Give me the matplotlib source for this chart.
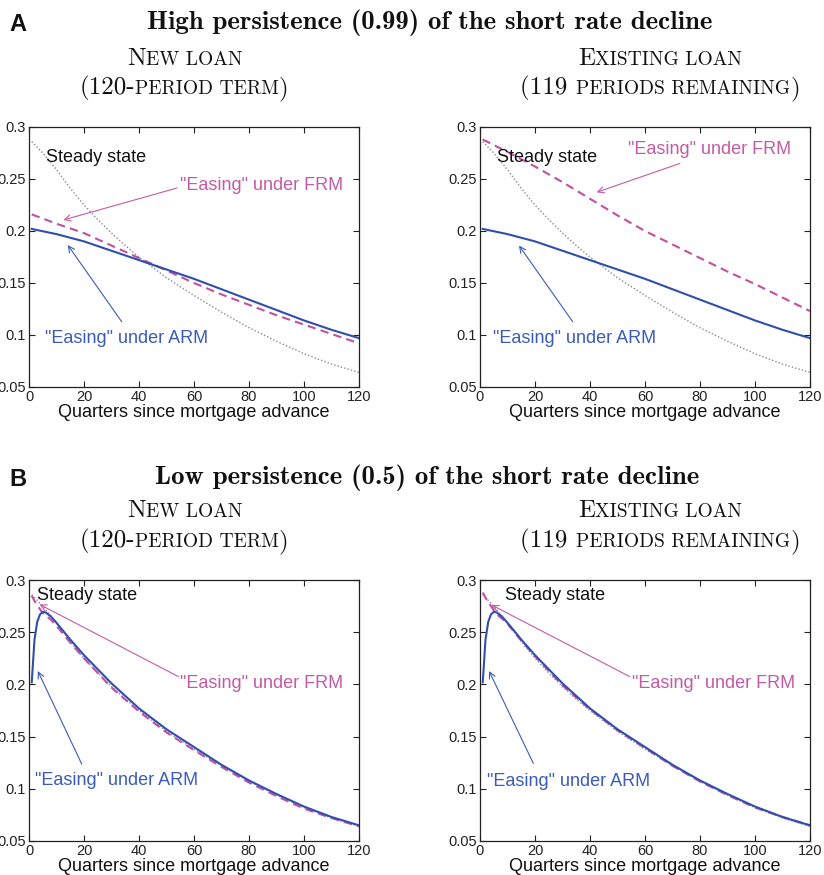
import matplotlib
matplotlib.use("Agg")
import matplotlib.pyplot as plt
from matplotlib.ticker import FixedLocator, FixedFormatter

# ---------------- data ----------------
quarters_ss = [1, 5, 10, 15, 20, 25, 30, 35, 40, 50, 60, 70, 80, 90, 100, 110, 120]
steady_state = [0.286, 0.275, 0.259, 0.241, 0.225, 0.211, 0.198, 0.186, 0.175,
                0.155, 0.138, 0.122, 0.107, 0.094, 0.082, 0.072, 0.064]

quarters_hi = [1, 10, 20, 30, 40, 50, 60, 70, 80, 90, 100, 110, 120]
arm_high = [0.202, 0.197, 0.190, 0.181, 0.172, 0.163, 0.154, 0.144, 0.134, 0.124, 0.114, 0.105, 0.097]
frm_high_new = [0.216, 0.207, 0.198, 0.186, 0.174, 0.162, 0.150, 0.139, 0.129, 0.119, 0.110, 0.101, 0.092]
frm_high_existing = [0.288, 0.276, 0.262, 0.247, 0.231, 0.215, 0.200, 0.187, 0.174, 0.161, 0.149, 0.136, 0.123]

quarters_lo = [1, 2, 3, 4, 5, 6, 7, 8, 10, 15, 20, 30, 40, 50, 60, 70, 80, 90, 100, 110, 120]
arm_low = [0.202, 0.243, 0.260, 0.267, 0.2695, 0.269, 0.267, 0.265, 0.259, 0.243, 0.228,
           0.201, 0.177, 0.157, 0.140, 0.123, 0.108, 0.095, 0.083, 0.073, 0.065]
frm_low_new = [0.285, 0.280, 0.276, 0.272, 0.2685, 0.2665, 0.264, 0.262, 0.256, 0.240, 0.225,
               0.197, 0.174, 0.154, 0.137, 0.121, 0.106, 0.093, 0.081, 0.072, 0.064]
frm_low_existing = [0.288, 0.283, 0.279, 0.275, 0.271, 0.268, 0.265, 0.263, 0.258, 0.242, 0.227,
                    0.199, 0.176, 0.156, 0.139, 0.122, 0.107, 0.094, 0.082, 0.073, 0.065]

x_ticks = [0, 20, 40, 60, 80, 100, 120]
y_ticks = [0.05, 0.1, 0.15, 0.2, 0.25, 0.3]
y_tick_labels = ["0.05", "0.1", "0.15", "0.2", "0.25", "0.3"]

# ---------------- style ----------------
BLUE = "#2f4fae"
MAG = "#c24fa4"
BLUE_T = "#3a5cb8"
MAG_T = "#c45aa6"
GRAY = "#8a8a8a"
SANS = ["Liberation Sans", "DejaVu Sans"]

W, H = 824, 875
fig = plt.figure(figsize=(W / 100, H / 100), dpi=100)


def ax_rect(left, top, right, bottom):
    return [left / W, 1 - bottom / H, (right - left) / W, (bottom - top) / H]


def style_axes(ax, xlabel=True):
    ax.set_xlim(0, 120)
    ax.set_ylim(0.05, 0.3)
    ax.xaxis.set_major_locator(FixedLocator(x_ticks))
    ax.yaxis.set_major_locator(FixedLocator(y_ticks))
    ax.yaxis.set_major_formatter(FixedFormatter(y_tick_labels))
    ax.tick_params(direction="in", top=True, right=True, length=4, width=0.8,
                   labelsize=10.5, pad=2, colors="#222222")
    for lab in ax.get_xticklabels() + ax.get_yticklabels():
        lab.set_family(SANS)
    for s in ax.spines.values():
        s.set_linewidth(0.9)
        s.set_color("#222222")
    if xlabel:
        ax.set_xlabel("Quarters since mortgage advance", family=SANS, fontsize=13,
                      labelpad=0, color="#111111")


def annotate(ax, text, color, text_xy, arrow_from, arrow_to):
    ax.text(text_xy[0], text_xy[1], text, color=color, family=SANS, fontsize=13,
            va="center", ha="left")
    if arrow_from is not None:
        ax.annotate("", xy=arrow_to, xytext=arrow_from,
                    arrowprops=dict(arrowstyle="->", color=color, lw=0.8,
                                    shrinkA=0, shrinkB=0, mutation_scale=11))


# Top-left
ax1 = fig.add_axes(ax_rect(29, 127, 359, 387))
ax1.plot(quarters_ss, steady_state, color=GRAY, lw=1.0, ls=(0, (1, 1.5)))
ax1.plot(quarters_hi, frm_high_new, color=MAG, lw=1.5, ls=(0, (4, 2.5)))
ax1.plot(quarters_hi, arm_high, color=BLUE, lw=1.5)
style_axes(ax1)
annotate(ax1, "Steady state", "#111111", (6.2, 0.271), None, None)
annotate(ax1, '"Easing" under FRM', MAG_T, (54.9, 0.244), (53.8, 0.2413), (12.5, 0.2106))
annotate(ax1, '"Easing" under ARM', BLUE_T, (5.8, 0.0962), (33.7, 0.1128), (14.1, 0.1865))

# Top-right
ax2 = fig.add_axes(ax_rect(480, 127, 810, 387))
ax2.plot(quarters_ss, steady_state, color=GRAY, lw=1.0, ls=(0, (1, 1.5)))
ax2.plot(quarters_hi, frm_high_existing, color=MAG, lw=1.5, ls=(0, (4, 2.5)))
ax2.plot(quarters_hi, arm_high, color=BLUE, lw=1.5)
style_axes(ax2)
annotate(ax2, "Steady state", "#111111", (6.2, 0.271), None, None)
annotate(ax2, '"Easing" under FRM', MAG_T, (53.8, 0.278), (72.7, 0.265), (42.4, 0.2372))
annotate(ax2, '"Easing" under ARM', BLUE_T, (4.7, 0.097), (33.7, 0.1128), (14.2, 0.186))

# Bottom-left
ax3 = fig.add_axes(ax_rect(29, 580, 359, 841))
ax3.plot(quarters_ss, steady_state, color=GRAY, lw=1.0, ls=(0, (1, 1.5)))
ax3.plot(quarters_lo, frm_low_new, color=MAG, lw=1.5, ls=(0, (4, 2.5)))
ax3.plot(quarters_lo, arm_low, color=BLUE, lw=1.5)
style_axes(ax3)
annotate(ax3, "Steady state", "#111111", (2.9, 0.2847), None, None)
annotate(ax3, '"Easing" under FRM', MAG_T, (54.9, 0.2013), (54.3, 0.2075), (3.8, 0.2767))
annotate(ax3, '"Easing" under ARM', BLUE_T, (2.2, 0.1084), (19.2, 0.1236), (3.2, 0.2128))

# Bottom-right
ax4 = fig.add_axes(ax_rect(480, 580, 810, 841))
ax4.plot(quarters_ss, steady_state, color=GRAY, lw=1.0, ls=(0, (1, 1.5)))
ax4.plot(quarters_lo, frm_low_existing, color=MAG, lw=1.5, ls=(0, (4, 2.5)))
ax4.plot(quarters_lo, arm_low, color=BLUE, lw=1.5)
style_axes(ax4)
annotate(ax4, "Steady state", "#111111", (9.1, 0.2847), None, None)
annotate(ax4, '"Easing" under FRM', MAG_T, (55.2, 0.2013), (54.5, 0.2074), (4.2, 0.2761))
annotate(ax4, '"Easing" under ARM', BLUE_T, (2.4, 0.107), (19.4, 0.1243), (3.3, 0.2128))

# ---------------- headings ----------------
renderer = fig.canvas.get_renderer()


def seq_text(parts, cx, baseline, family="cmr10"):
    """Draw a sequence of (text, size) pieces centred at cx (px) on a baseline (px)."""
    objs = []
    widths = []
    for txt, size in parts:
        t = fig.text(0, 1 - baseline / H, txt, family=family, fontsize=size,
                     va="baseline", ha="left", color="#111111")
        w = t.get_window_extent(renderer).width
        objs.append(t)
        widths.append(w)
    total = sum(widths)
    x = cx - total / 2
    for t, w in zip(objs, widths):
        t.set_x(x / W)
        x += w


BIG, SMALL = 18, 14

fig.text(9 / W, 1 - 31 / H, "A", family=SANS, fontsize=17, fontweight="bold",
         va="baseline", ha="left", color="#111111")
fig.text(9 / W, 1 - 486 / H, "B", family=SANS, fontsize=17, fontweight="bold",
         va="baseline", ha="left", color="#111111")

seq_text([("High persistence (0.99) of the short rate decline", 19.3)], 430, 29, family="cmb10")
seq_text([("Low persistence (0.5) of the short rate decline", 19.3)], 427, 484, family="cmb10")

for base1, base2 in [(65, 94), (517, 547)]:
    seq_text([("N", BIG), ("EW LOAN", SMALL)], 185, base1)
    seq_text([("(120-", BIG), ("PERIOD TERM", SMALL), (")", BIG)], 184, base2)
    seq_text([("E", BIG), ("XISTING LOAN", SMALL)], 660, base1)
    seq_text([("(119 ", BIG), ("PERIODS REMAINING", SMALL), (")", BIG)], 660, base2)

fig.savefig("out.png", dpi=100)
